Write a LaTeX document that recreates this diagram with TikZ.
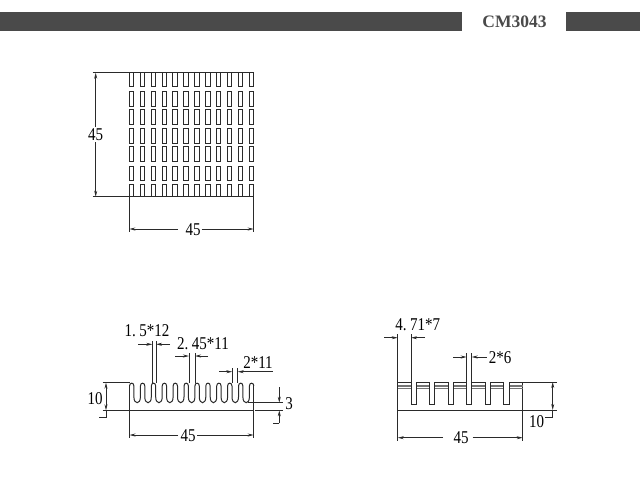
\documentclass[tikz,border=0pt]{standalone}
\usepackage{fontspec}
\setmainfont{Liberation Serif}
\usetikzlibrary{arrows.meta}
\definecolor{ink}{HTML}{2A2A2A}
\definecolor{bar}{HTML}{4A4A4A}
\newcommand{\dimtext}[1]{\scalebox{1}[1.2]{#1}}
\tikzset{
  part/.style={draw=ink,line width=1pt},
  thin part/.style={draw=ink!65,line width=1.1pt},
  dimline/.style={draw=ink,line width=0.8pt},
  dimarrow/.style={dimline,-{Stealth[length=6pt,width=3pt]}},
  dimlabel/.style={font=\fontsize{15}{15}\selectfont,text=black,inner sep=0pt,anchor=center},
  headerbar/.style={fill=bar,draw=none}
}
\begin{document}
\begin{tikzpicture}[x=1pt,y=-1pt]
\useasboundingbox (0,0) rectangle (640,480);
% header
\fill[headerbar] (0,12) rectangle (462,31);
\fill[headerbar] (566,12) rectangle (640,31);
\node[font=\fontsize{17.5}{17.5}\selectfont\bfseries,text=bar,inner sep=0pt] (title) at (514.5,22) {CM3043};

% ---------- top view
\draw[part] (129.3,72.7) -- (253.7,72.7);
\draw[part] (129.3,196.7) -- (253.7,196.7);
\foreach \i in {0,...,11}{
  \pgfmathsetmacro{\xa}{129.3+10.9*\i}
  \pgfmathsetmacro{\xb}{\xa+4.4}
  \draw[part] (\xa,72.7) -- (\xa,86.7) -- (\xb,86.7) -- (\xb,72.7);
  \foreach \ya/\yb in {91/106,109.3/124.3,128.3/143.3,146.7/161.7,166/180}
    \draw[part] (\xa,\ya) rectangle (\xb,\yb);
  \draw[part] (\xa,196.7) -- (\xa,184) -- (\xb,184) -- (\xb,196.7);
}
% top view dimensions
\draw[dimline] (92.7,72.7) -- (129.3,72.7);
\draw[dimline] (92.7,196.7) -- (129.3,196.7);
\node[dimlabel] (tv45v) at (95.7,134.3) {\dimtext{45}};
\coordinate (tvA) at (95.7,127);
\coordinate (tvB) at (95.7,142);
\draw[dimarrow] (tvA) -- (95.7,72.7);
\draw[dimarrow] (tvB) -- (95.7,196.7);
\draw[dimline] (129.3,196.7) -- (129.3,231.7);
\draw[dimline] (253.7,196.7) -- (253.7,231.7);
\node[dimlabel] (tv45h) at (193,229.5) {\dimtext{45}};
\draw[dimarrow] (178,229) -- (129.3,229);
\draw[dimarrow] (201.7,229) -- (253.7,229);

% ---------- front view left
\draw[part] (129.5,410.3) -- (253.7,410.3);
\draw[part] (129.5,410.3) -- (129.5,386);
\draw[part] (253.7,410.3) -- (253.7,386);
\foreach \i in {0,...,11}{
  \pgfmathsetmacro{\xa}{129.5+10.9*\i}
  \pgfmathsetmacro{\xb}{\xa+4.4}
  \draw[part] (\xa,386) .. controls (\xa,382.2) and (\xb,382.2) .. (\xb,386);
}
\foreach \i in {0,...,10}{
  \pgfmathsetmacro{\xa}{129.5+10.9*\i+4.4}
  \pgfmathsetmacro{\xb}{\xa+6.5}
  \draw[part] (\xa,386) -- (\xa,397) .. controls (\xa,404.6) and (\xb,404.6) .. (\xb,397) -- (\xb,386);
}
% 10
\draw[dimline] (102.7,382.7) -- (129.5,382.7);
\draw[dimline] (102.7,410.3) -- (129.5,410.3);
\draw[dimarrow] (106,396) -- (106,382.7);
\draw[dimarrow] (106,396) -- (106,410.3);
\draw[dimline] (106,410.3) -- (106,417.3) -- (99,417.3);
\node[dimlabel] (fl10) at (95,399) {\dimtext{10}};
% 45
\draw[dimline] (129.5,410.3) -- (129.5,438);
\draw[dimline] (253.7,410.3) -- (253.7,438);
\node[dimlabel] (fl45) at (188,436) {\dimtext{45}};
\draw[dimarrow] (178,435) -- (129.5,435);
\draw[dimarrow] (197,435) -- (253.7,435);
% 3
\draw[dimline] (248,402.7) -- (283,402.7);
\draw[dimline] (255,410.3) -- (283,410.3);
\draw[dimarrow] (279.3,387) -- (279.3,402.7);
\draw[dimarrow] (279.3,423) -- (279.3,410.3);
\draw[dimline] (279.3,423) -- (272.7,423);
\node[dimlabel] (fl3) at (289,404) {\dimtext{3}};
% 1.5*12
\node[dimlabel] (fla) at (147,331) {\dimtext{1.\kern3.5pt 5*12}};
\draw[dimline] (152.3,341) -- (152.3,382.7);
\draw[dimline] (156,341) -- (156,383);
\draw[dimarrow] (138,344.3) -- (152.3,344.3);
\draw[dimarrow] (170,344.3) -- (156,344.3);
% 2.45*11
\node[dimlabel] (flb) at (203,344) {\dimtext{2.\kern3.5pt 45*11}};
\draw[dimline] (189,353) -- (189,383);
\draw[dimline] (195,353) -- (195,383);
\draw[dimarrow] (175,356) -- (189,356);
\draw[dimarrow] (208,356) -- (195,356);
% 2*11
\node[dimlabel] (flc) at (258,363) {\dimtext{2*11}};
\draw[dimline] (232.3,368) -- (232.3,383);
\draw[dimline] (237.7,368) -- (237.7,383);
\draw[dimarrow] (219,371.7) -- (232.3,371.7);
\draw[dimarrow] (272.7,371.7) -- (237.7,371.7);

% ---------- front view right
\draw[part] (397.7,410) -- (522.7,410);
\draw[part] (397.7,382) -- (397.7,410);
\draw[part] (522.7,382) -- (522.7,410);
\foreach \i in {0,...,6}{
  \pgfmathsetmacro{\xa}{397.7+18.57*\i}
  \pgfmathsetmacro{\xb}{\xa+13.4}
  \draw[part] (\xa,382) -- (\xb,382);
  \draw[thin part] (\xa,386) -- (\xb,386);
  \draw[thin part] (\xa,388.5) -- (\xb,388.5);
}
\foreach \i in {0,...,5}{
  \pgfmathsetmacro{\xa}{397.7+18.57*\i+13.4}
  \pgfmathsetmacro{\xb}{\xa+5.17}
  \draw[part] (\xa,382) -- (\xa,404.3) -- (\xb,404.3) -- (\xb,382);
}
% 10
\draw[dimline] (522.7,382) -- (556.7,382);
\draw[dimline] (522.7,410) -- (556.7,410);
\draw[dimarrow] (552.7,396) -- (552.7,382);
\draw[dimarrow] (552.7,396) -- (552.7,410);
\draw[dimline] (552.7,410) -- (552.7,417.3) -- (545,417.3);
\node[dimlabel] (fr10) at (536.7,421.7) {\dimtext{10}};
% 45
\draw[dimline] (397.7,410) -- (397.7,441);
\draw[dimline] (522.7,410) -- (522.7,441);
\node[dimlabel] (fr45) at (461,438) {\dimtext{45}};
\draw[dimarrow] (443,437.7) -- (397.7,437.7);
\draw[dimarrow] (472.7,437.7) -- (522.7,437.7);
% 4.71*7
\node[dimlabel] (frb) at (417.7,325) {\dimtext{4.\kern3.5pt 71*7}};
\draw[dimline] (397.7,334) -- (397.7,382);
\draw[dimline] (411,334) -- (411,382);
\draw[dimarrow] (384,337.7) -- (397.7,337.7);
\draw[dimarrow] (425,337.7) -- (411,337.7);
% 2*6
\node[dimlabel] (frc) at (500,357.3) {\dimtext{2*6}};
\draw[dimline] (466.7,353) -- (466.7,382);
\draw[dimline] (471.7,353) -- (471.7,382);
\draw[dimarrow] (453,357) -- (466.7,357);
\draw[dimarrow] (486.7,357) -- (471.7,357);
\end{tikzpicture}
\end{document}
